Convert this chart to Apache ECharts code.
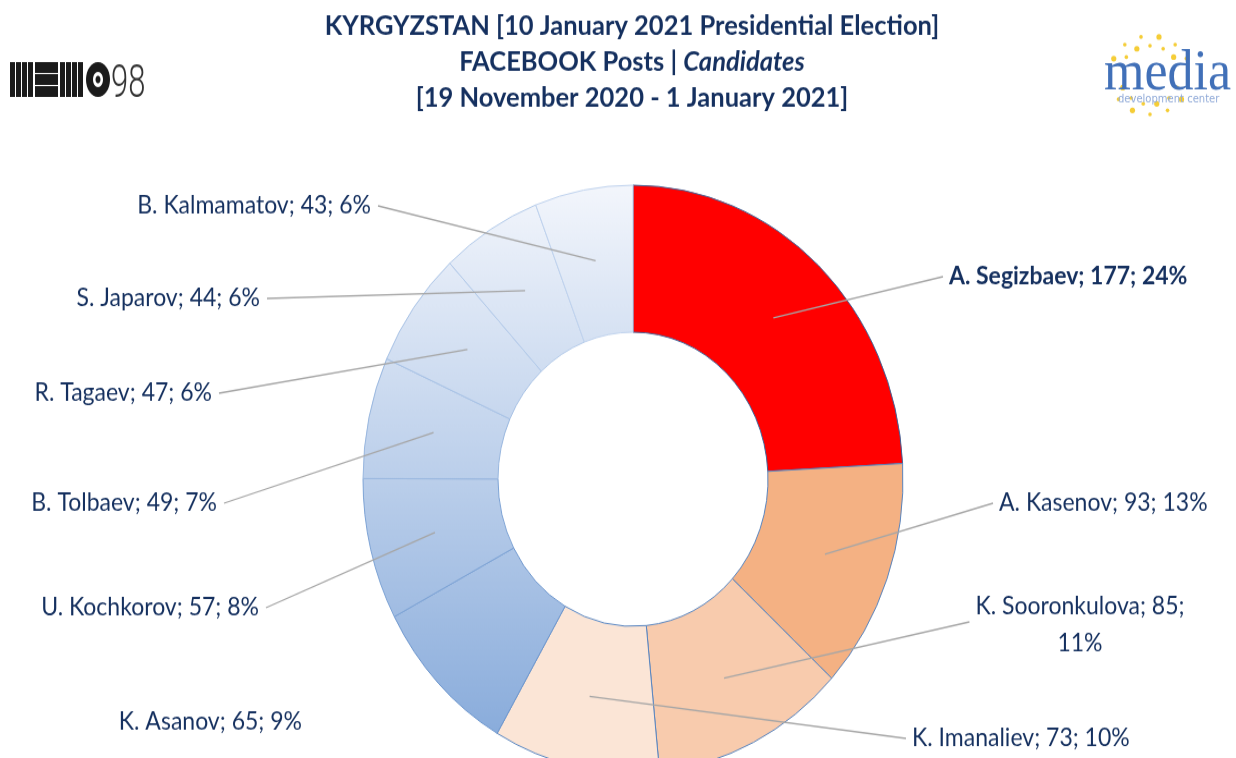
<!DOCTYPE html>
<html>
<head>
<meta charset="utf-8">
<script src="https://cdn.jsdelivr.net/npm/echarts@6/dist/echarts.min.js"></script>
<style>
html{margin:0;padding:0;background:#fff;overflow:hidden}
body{margin:0;padding:0;background:#fff;width:1236px;height:758px;overflow:hidden}
#chart{width:1236px;height:730px;transform:scaleY(1.0891);transform-origin:0 0}
</style>
</head>
<body>
<div id="chart"></div>
<script>
// data, clockwise from 12 o'clock
var candidates = ['A. Segizbaev', 'A. Kasenov', 'K. Sooronkulova', 'K. Imanaliev', 'K. Asanov',
                  'U. Kochkorov', 'B. Tolbaev', 'R. Tagaev', 'S. Japarov', 'B. Kalmamatov'];
var posts = [177, 93, 85, 73, 65, 57, 49, 47, 44, 43];

var titleLines = ['KYRGYZSTAN [10 January 2021 Presidential Election]', 'FACEBOOK Posts | ', 'Candidates',
                  '[19 November 2020 - 1 January 2021]'];

var navy = '#15305f';
var blueFill = {
    type: 'linear', x: 0, y: 170, x2: 0, y2: 710, global: true,
    colorStops: [{offset: 0, color: '#f3f6fc'}, {offset: 1, color: '#82a7d9'}]
};
var sliceColors = ['#ff0000', '#f4b183', '#f8cbad', '#fbe5d6', blueFill, blueFill, blueFill, blueFill, blueFill, blueFill];
var sliceBorders = ['#41659a', '#5a86c0', '#5a86c0', '#5a86c0', '#6f98cf', '#7ea4d6', '#9ab8e0', '#a9c3e6', '#b4cbea', '#c0d3ee'];

// where each label sits: [x, y, align]
var labelSpots = [
    [949, 254, 'left'],
    [999, 462, 'left'],
    [1080, 574, 'center'],
    [912, 678, 'left'],
    [302, 663, 'right'],
    [259, 558, 'right'],
    [217, 462, 'right'],
    [212, 361, 'right'],
    [260, 274, 'right'],
    [371, 189, 'right']
];

var chart = echarts.init(document.getElementById('chart'));

// logos
var logo = [];
[10, 16, 22, 28].forEach(function (x) {
    logo.push({type: 'rect', shape: {x: x, y: 57, width: 5, height: 32}, style: {fill: '#1b1b1b'}});
});
[57, 68, 79].forEach(function (y) {
    logo.push({type: 'rect', shape: {x: 35, y: y, width: 23, height: 10}, style: {fill: '#1b1b1b'}});
});
[60, 66, 72, 78].forEach(function (x) {
    logo.push({type: 'rect', shape: {x: x, y: 57, width: 5, height: 32}, style: {fill: '#1b1b1b'}});
});
logo.push({type: 'ellipse', shape: {cx: 98, cy: 73, rx: 12, ry: 16}, style: {fill: '#1b1b1b'}});
logo.push({type: 'ellipse', shape: {cx: 98, cy: 73, rx: 5, ry: 7}, style: {fill: '#fff'}});
logo.push({type: 'ellipse', shape: {cx: 98, cy: 73, rx: 2.5, ry: 3.5}, style: {fill: '#1b1b1b'}});
logo.push({type: 'text', x: 111, y: 56, scaleY: 1.4,
    style: {text: '98', font: '300 31px Roboto', fill: '#333', textVerticalAlign: 'top'}});

// media development center
for (var i = 0; i < 22; i++) {
    var a = (i < 11 ? -155 + i * 13 : 25 + (i - 11) * 13) * Math.PI / 180;
    var rr = (i % 2) ? 30 : 40;
    logo.push({type: 'circle', shape: {cx: 1150 + rr * Math.cos(a), cy: 69 + rr * 0.9 * Math.sin(a), r: (i % 3) ? 1.8 : 2.6},
        style: {fill: '#f3c414', opacity: 0.85}});
}
logo.push({type: 'text', x: 1104, y: 68, style: {text: 'media', font: '52px "Liberation Serif"', fill: '#4170b8', textVerticalAlign: 'middle'}});
logo.push({type: 'text', x: 1118, y: 91, style: {text: 'development center', font: '10px "DejaVu Sans"', fill: '#93acd9', textVerticalAlign: 'middle'}});

var option = {
    backgroundColor: '#fff',
    animation: false,
    title: {
        left: 632,
        top: 7,
        padding: 0,
        textAlign: 'center',
        text: '{b|' + titleLines[0] + '}\n{b|' + titleLines[1] + '}{i|' + titleLines[2] + '}\n{b|' + titleLines[3] + '}',
        textStyle: {
            rich: {
                b: {fontFamily: 'Lato', fontWeight: 'bold', fontSize: 25.5, color: navy, lineHeight: 33},
                i: {fontFamily: 'Lato', fontWeight: 'bold', fontStyle: 'italic', fontSize: 25.5, color: navy, lineHeight: 33}
            }
        }
    },
    graphic: logo,
    series: [
        {
            type: 'pie',
            radius: [135, 270],
            center: [633, 440],
            startAngle: 90,
            silent: true,
            label: {show: false},
            labelLine: {show: false},
            data: candidates.map(function (n, i) {
                return {name: n, value: posts[i], itemStyle: {color: sliceColors[i], borderColor: sliceBorders[i], borderWidth: 1}};
            })
        },
        {
            // invisible ring: its label lines start inside the donut
            type: 'pie',
            radius: [0, 204],
            center: [633, 440],
            startAngle: 90,
            silent: true,
            z: 3,
            percentPrecision: 0,
            avoidLabelOverlap: false,
            itemStyle: {color: 'rgba(0,0,0,0)'},
            label: {
                show: true,
                position: 'outside',
                formatter: '{b}; {c}; {d}%',
                color: navy,
                fontFamily: 'Lato',
                fontSize: 23,
                lineHeight: 34
            },
            labelLine: {show: true, length: 10, length2: 10, showAbove: true, lineStyle: {color: '#a6a6a6', width: 1.3}},
            labelLayout: function (p) {
                var s = labelSpots[p.dataIndex];
                var end;
                if (s[2] === 'right') end = [s[0] + 7, s[1]];
                else if (s[2] === 'left') end = [s[0] - 6, s[1]];
                else end = [s[0] - p.labelRect.width / 2 - 6, s[1] - 3];
                var res = {x: s[0], y: s[1], align: s[2], verticalAlign: 'middle'};
                if (p.labelLinePoints) res.labelLinePoints = [p.labelLinePoints[0], end];
                return res;
            },
            data: candidates.map(function (n, i) {
                var d = {name: n, value: posts[i]};
                if (i === 0) d.label = {fontWeight: 'bold'};
                if (i === 2) d.label = {formatter: '{b}; {c};\n{d}%'};
                if (i === 4) d.labelLine = {show: false};
                return d;
            })
        }
    ]
};
chart.setOption(option);
window.addEventListener('resize', function () { chart.resize(); });
</script>
</body>
</html>
